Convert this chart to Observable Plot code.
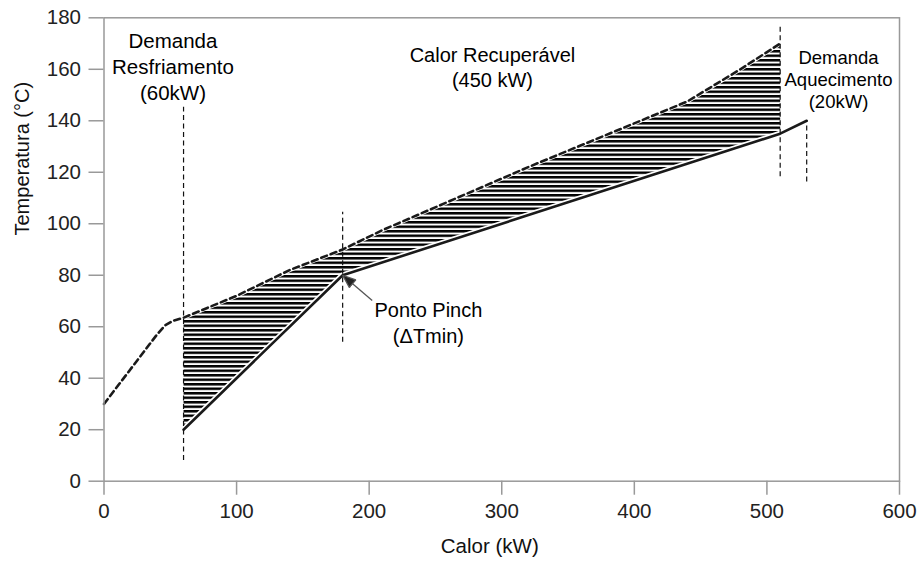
<!DOCTYPE html>
<html>
<head>
<meta charset="utf-8">
<script src="https://cdn.jsdelivr.net/npm/d3@7"></script>
<script src="https://cdn.jsdelivr.net/npm/@observablehq/plot@0.6"></script>
<style>
  body { margin: 0; background: #fff; }
</style>
</head>
<body>
<div id="chart"></div>
<script>
// Hot composite curve (heat released, kW vs temperature, °C)
const hotHeat = [0, 40, 46, 52, 60, 100, 140, 180, 210, 320, 440, 480, 510];
const hotTemp = [30, 57, 60.5, 62.3, 63.5, 72, 82, 90, 97.5, 122, 147.5, 160, 170];

// Cold composite curve
const coldHeat = [60, 180, 510, 530];
const coldTemp = [20, 80, 135, 140];

// Dashed guide lines: position on the heat axis and their temperature span
const guideHeat = [60, 180, 510, 530];
const guideLow = [8, 54, 118.3, 116.2];
const guideHigh = [145.3, 104.5, 177, 140];

// Axis ticks
const xTicks = [0, 100, 200, 300, 400, 500, 600];
const yTicks = [0, 20, 40, 60, 80, 100, 120, 140, 160, 180];

// Annotation texts
const coolingText = "Demanda\nResfriamento\n(60kW)";
const recoveryText = "Calor Recuperável\n(450 kW)";
const heatingText = "Demanda\nAquecimento\n(20kW)";
const pinchText = "Ponto Pinch\n(ΔTmin)";

const hot = hotHeat.map((q, i) => ({q, t: hotTemp[i]}));
const cold = coldHeat.map((q, i) => ({q, t: coldTemp[i]}));
const guides = guideHeat.map((q, i) => ({q, lo: guideLow[i], hi: guideHigh[i]}));

// Recoverable heat region: hot curve forward, cold curve back, between the two overlaps
const qStart = coldHeat[0];
const qEnd = hotHeat[hotHeat.length - 1];
const region = hot.filter(d => d.q >= qStart)
  .concat(cold.filter(d => d.q <= qEnd).reverse());

const pinch = {q: coldHeat[1], t: coldTemp[1]};

// Filled arrowhead marker
function solidHead(color, context) {
  const ns = "http://www.w3.org/2000/svg";
  const doc = (context && context.document) || document;
  const m = doc.createElementNS(ns, "marker");
  m.setAttribute("viewBox", "-14 -6 15 12");
  m.setAttribute("markerWidth", 15);
  m.setAttribute("markerHeight", 12);
  m.setAttribute("markerUnits", "userSpaceOnUse");
  m.setAttribute("orient", "auto");
  m.setAttribute("refX", 0);
  m.setAttribute("refY", 0);
  const p = doc.createElementNS(ns, "path");
  p.setAttribute("d", "M0,0L-13,-5L-13,5Z");
  p.setAttribute("fill", "#222");
  m.appendChild(p);
  return m;
}

const font = "Liberation Sans, Arial, sans-serif";

const svg = Plot.plot({
  width: 920,
  height: 561,
  marginLeft: 103.5,
  marginRight: 21,
  marginTop: 17.3,
  marginBottom: 80.3,
  style: {fontFamily: font, background: "#fff", color: "#111"},
  x: {domain: [0, 600]},
  y: {domain: [0, 180]},
  marks: [
    Plot.line(region, {x: "q", y: "t", fill: "url(#hatch)", stroke: "none"}),
    Plot.line(cold, {x: "q", y: "t", stroke: "#fff", strokeWidth: 6}),
    Plot.line(hot, {x: "q", y: "t", stroke: "#fff", strokeWidth: 4}),
    Plot.line(hot, {x: "q", y: "t", stroke: "#1a1a1a", strokeWidth: 2.6, strokeDasharray: "6,4"}),
    Plot.line(cold, {x: "q", y: "t", stroke: "#1a1a1a", strokeWidth: 2.6}),
    Plot.ruleX(guides, {x: "q", y1: "lo", y2: "hi", stroke: "#111", strokeWidth: 1.2, strokeDasharray: "5,3.5"}),
    Plot.link([pinch], {
      x1: d => d.q + 22.3, y1: d => d.t - 9.8,
      x2: "q", y2: "t",
      stroke: "#555", strokeWidth: 1.3, markerEnd: solidHead
    }),
    Plot.text([coolingText], {x: () => 52, y: () => 161.5, text: d => d, fontSize: 20.5, lineHeight: 1.27, fill: "#000"}),
    Plot.text([recoveryText], {x: () => 293, y: () => 161.1, text: d => d, fontSize: 20, lineHeight: 1.25, fill: "#000"}),
    Plot.text([heatingText], {x: () => 554, y: () => 156.3, text: d => d, fontSize: 18.5, lineHeight: 1.18, fill: "#000"}),
    Plot.text([pinchText], {x: () => 244.7, y: () => 61.8, text: d => d, fontSize: 20, lineHeight: 1.3, fill: "#000"}),
    Plot.frame({stroke: "#999", strokeWidth: 1.5}),
    Plot.axisX({ticks: xTicks, tickSize: 14, tickPadding: 8, fontSize: 20.5, stroke: "#999", strokeWidth: 1.5, fill: "#222", label: null}),
    Plot.axisY({ticks: yTicks, tickSize: 15, tickPadding: 8, fontSize: 20.5, stroke: "#999", strokeWidth: 1.5, fill: "#222", label: null}),
    Plot.text(["Calor (kW)"], {frameAnchor: "bottom", dx: -12, dy: 65, lineAnchor: "middle", text: d => d, fontSize: 20.5, fill: "#111"}),
    Plot.text(["Temperatura (°C)"], {frameAnchor: "left", dx: -81, dy: -14, rotate: -90, lineAnchor: "middle", text: d => d, fontSize: 20, fill: "#111"})
  ]
});

// Horizontal hatch used for the recoverable heat region
const defs = d3.select(svg).insert("defs", ":first-child");
const pat = defs.append("pattern")
  .attr("id", "hatch")
  .attr("patternUnits", "userSpaceOnUse")
  .attr("width", 8)
  .attr("height", 4.5);
pat.append("rect").attr("width", 8).attr("height", 2.5).attr("fill", "#000");

document.getElementById("chart").append(svg);
</script>
</body>
</html>
